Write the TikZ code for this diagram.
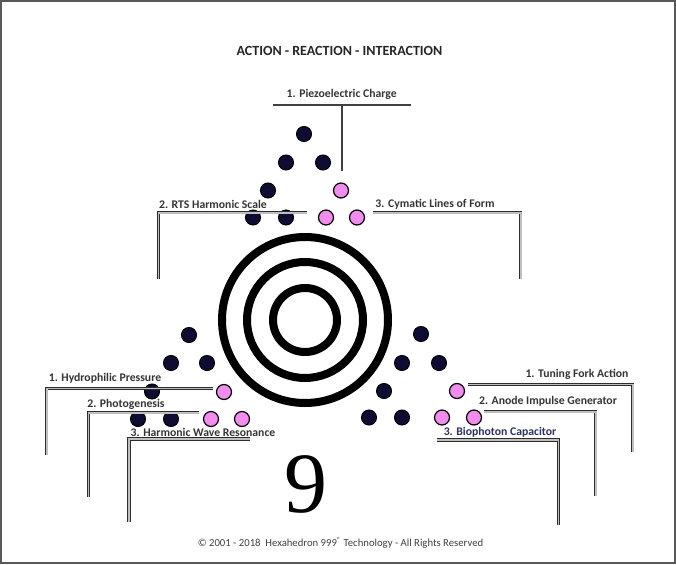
\documentclass[tikz,border=0pt]{standalone}
\usepackage{fontspec}
\setmainfont{Carlito}
\newfontfamily\ninefont{Liberation Serif}
\definecolor{navydot}{HTML}{0E0C33}
\definecolor{pinkdot}{HTML}{F28CEF}
\definecolor{labelgray}{HTML}{353535}
\definecolor{bionavy}{HTML}{2B3165}
\tikzset{
  darkdot/.style={circle, fill=navydot, draw=black, line width=1pt, minimum size=15pt, inner sep=0pt},
  pinkdot/.style={circle, fill=pinkdot, draw=black, line width=1.2pt, minimum size=15pt, inner sep=0pt},
  ring/.style={line width=8pt, black},
  leader/.style={draw=gray!35!black, line width=0.8pt, double=gray!50, double distance=1.6pt},
  stem/.style={draw=black!75, line width=2pt},
  lbl/.style={font=\bfseries\fontsize{11.7}{13}\selectfont, text=labelgray, inner sep=0pt}
}
\begin{document}
\begin{tikzpicture}[x=1pt, y=-1pt]
    \useasboundingbox (0,0) rectangle (676,564);
    \fill[white] (0,0) rectangle (676,564);
    \draw[gray!70!black, line width=2pt] (1,1) rectangle (675,563);
    \node[font=\bfseries\fontsize{14}{16}\selectfont, text=black!85, inner sep=0pt] (title) at (339.5,50.5) {ACTION - REACTION - INTERACTION};
    % rings
    \coordinate (hub) at (305,320);
    \foreach \rad in {83,58,32}{
        \draw[ring] (hub) circle (\rad);
    }
    % dots
    \foreach \nm/\x/\y in {ta/304/134, tb/286/162.5, tc/323/162.5, td/268/190.5, te/253/217.5, tf/286/217.5,
                           la/189/335, lb/171/363, lc/207/363, ld/152/391.5, le/138/419, lf/171/419,
                           ra/421/334, rb/402/363, rc/439/363, rd/384/391, re/369/417.5, rf/402/417.5}{
        \node[darkdot] (\nm) at (\x,\y) {};
    }
    \foreach \nm/\x/\y in {tg/341/190.5, th/326/217.5, ti/357/217.5,
                           lg/224/392, lh/211/419, li/242/419,
                           rg/457/391, rh/442/417.5, ri/474/417.5}{
        \node[pinkdot] (\nm) at (\x,\y) {};
    }
    % labels
    \node[lbl] (piezo) at (341.7,94) {1. Piezoelectric Charge};
    \node[lbl] (rts) at (213,204.7) {2. RTS Harmonic Scale};
    \node[lbl] (cym) at (435,204.7) {3. Cymatic Lines of Form};
    \node[lbl] (hydro) at (105,378.7) {1. Hydrophilic Pressure};
    \node[lbl] (photo) at (126,404) {2. Photogenesis};
    \node[lbl] (wave) at (203,432.7) {3. Harmonic Wave Resonance};
    \node[lbl] (fork) at (577,374.3) {1. Tuning Fork Action};
    \node[lbl] (anode) at (548,401.7) {2. Anode Impulse Generator};
    \node[lbl, text=bionavy] (bio) at (500,432.7) {3. Biophoton Capacitor};
    % leader corners and ends
    \coordinate (pzL) at (273,105);   \coordinate (pzR) at (411,105);
    \coordinate (pzT) at (341.7,105); \coordinate (pzB) at (341.7,171);
    \coordinate (rtsA) at (306.7,212.7); \coordinate (rtsB) at (158.3,212.7); \coordinate (rtsC) at (158.3,279);
    \coordinate (cymA) at (373.3,212.7); \coordinate (cymB) at (520.7,212.7); \coordinate (cymC) at (520.7,279);
    \coordinate (hyA) at (212.7,388.3); \coordinate (hyB) at (46.7,388.3); \coordinate (hyC) at (46.7,455);
    \coordinate (phA) at (199.3,412.7); \coordinate (phB) at (88.3,412.7); \coordinate (phC) at (88.3,497);
    \coordinate (wvA) at (250,439); \coordinate (wvB) at (129,439); \coordinate (wvC) at (129,522);
    \coordinate (tfA) at (468.3,384.3); \coordinate (tfB) at (632.7,384.3); \coordinate (tfC) at (632.7,452);
    \coordinate (anA) at (484,411.7); \coordinate (anB) at (595.7,411.7); \coordinate (anC) at (595.7,496);
    \coordinate (bpA) at (436.7,440); \coordinate (bpB) at (558.3,440); \coordinate (bpC) at (558.3,524.5);
    \draw[stem] (pzL) -- (pzR);
    \draw[stem] (pzT) -- (pzB);
    \foreach \p in {rts,cym,hy,ph,wv,tf,an,bp}{
        \draw[leader] (\p A) -- (\p B) -- (\p C);
    }
    \node[font=\ninefont\fontsize{86}{86}\selectfont, inner sep=0pt] (nine) at (306,484) {9};
    \node[font=\fontsize{10.7}{12}\selectfont, text=black!75, inner sep=0pt] (copy) at (340.5,542.7) {\textcopyright{} 2001 - 2018\ \ Hexahedron 999\textsuperscript{\textregistered} Technology - All Rights Reserved};
\end{tikzpicture}
\end{document}
